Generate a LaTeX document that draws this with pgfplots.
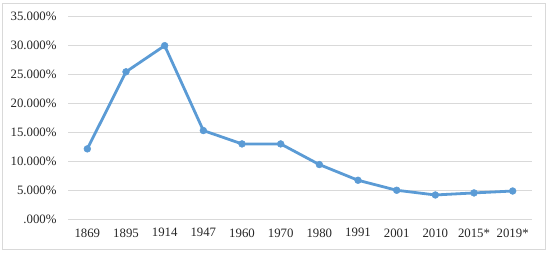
\documentclass[border=0pt]{standalone}
\usepackage{pgfplots}
\pgfplotsset{compat=1.18}
\usepackage{fontspec}
\setmainfont{Liberation Serif}
\definecolor{gridc}{HTML}{D9D9D9}
\definecolor{linec}{HTML}{5B9BD5}
\begin{document}
\begin{tikzpicture}[x=1bp,y=1bp]
\useasboundingbox (0,0) rectangle (550,254);
\draw[gridc, line width=0.9bp] (2,5) rectangle (545.5,251);
\begin{axis}[
  at={(68bp,34.5bp)}, anchor=south west,
  scale only axis, width=464bp, height=203.5bp,
  xmin=-0.5, xmax=11.5, ymin=0, ymax=35,
  axis line style={draw=none},
  clip=false,
  xtick=data,
  xticklabels={1869,1895,1914,1947,1960,1970,1980,1991,2001,2010,2015*,2019*},
  ytick={0,5,10,15,20,25,30,35},
  yticklabels={.000\%,5.000\%,10.000\%,15.000\%,20.000\%,25.000\%,30.000\%,35.000\%},
  ymajorgrids, major grid style={gridc, line width=0.9bp},
  tick style={draw=none},
  xtick pos=bottom, ytick pos=left,
  ticklabel style={font=\fontsize{12.8bp}{14bp}\selectfont, text=black!85},
  xticklabel style={yshift=-5.5bp},
  yticklabel style={xshift=-8bp},
]
\addplot[color=linec, line width=2.8bp, mark=*, mark size=3.4bp, mark options={fill=linec, draw=linec, line width=0.5bp}]
 coordinates {(0,12.15) (1,25.4) (2,29.9) (3,15.3) (4,13.0) (5,13.0) (6,9.45) (7,6.75) (8,5.03) (9,4.22) (10,4.57) (11,4.9)};
\end{axis}
\end{tikzpicture}
\end{document}
